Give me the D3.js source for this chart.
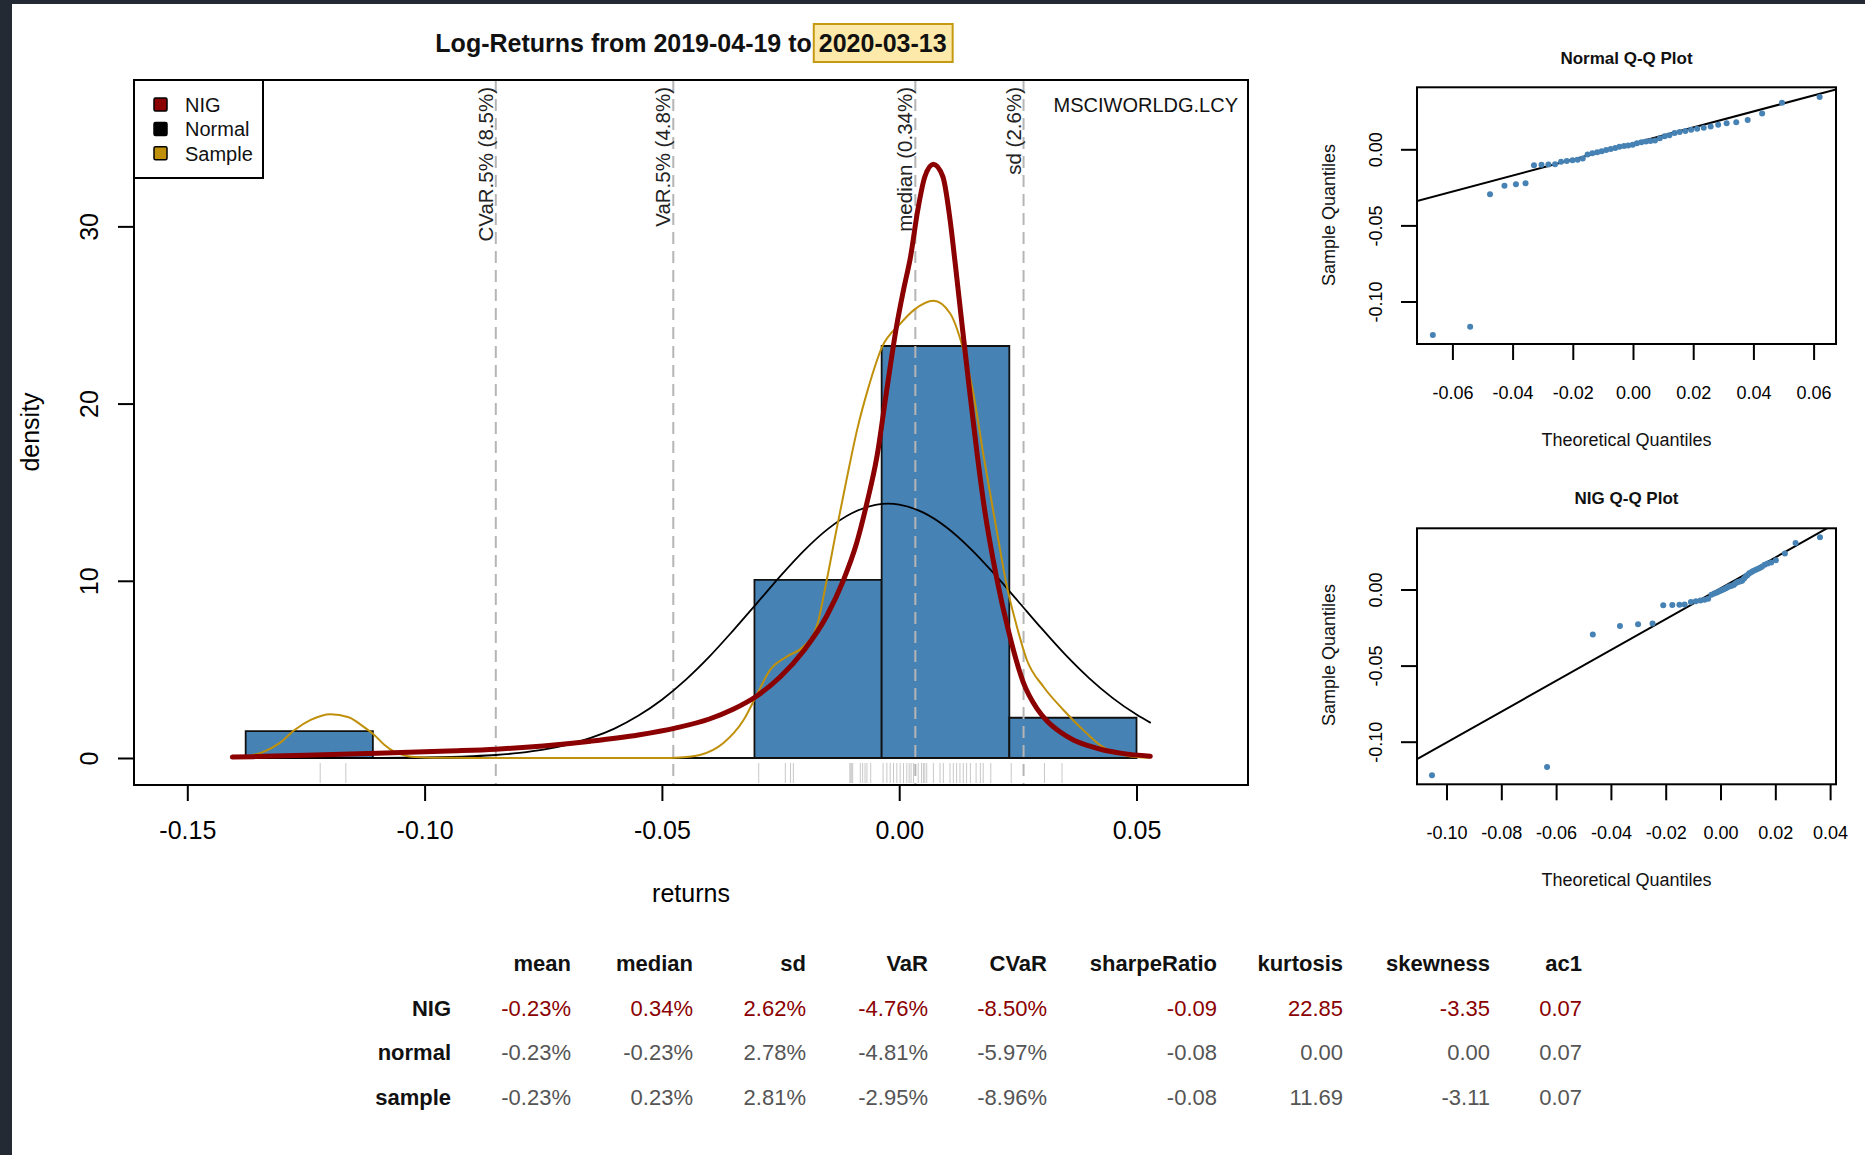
<!DOCTYPE html>
<html><head><meta charset="utf-8">
<script src="https://cdn.jsdelivr.net/npm/d3@7"></script>
<style>
html,body{margin:0;padding:0;background:#242a33;}
svg{display:block;}
text{font-family:"Liberation Sans",Arial,sans-serif;}
</style></head><body>
<svg id="chart" width="1865" height="1155"></svg>
<script>
// ---------------- DATA ----------------
const titleMain = "Log-Returns from 2019-04-19 to ";
const titleDate = "2020-03-13";
const seriesName = "MSCIWORLDG.LCY";
const legendLabels = ["NIG", "Normal", "Sample"];

const histBreaks = [-0.1377, -0.1109, -0.0841, -0.0573, -0.0305, -0.0037, 0.0232, 0.0500];
const histDensity = [1.52, 0, 0, 0, 10.05, 23.25, 2.27];

const xTicks = [-0.15, -0.10, -0.05, 0.00, 0.05];
const yTicks = [0, 10, 20, 30];

const riskLabels = ["CVaR.5% (8.5%)", "VaR.5% (4.8%)", "median (0.34%)", "sd (2.6%)"];
const riskValues = [-0.085, -0.0476, 0.0034, 0.0262];

// sorted log-returns (48 obs)
const sampleReturns = [
 -0.1220, -0.1166, -0.0296, -0.0240, -0.0229, -0.0223, -0.0104, -0.0102, -0.0100, -0.0098,
 -0.0082, -0.0077, -0.0072, -0.0068, -0.0060, -0.0034, -0.0026, -0.0019, -0.0012, -0.0005,
  0.0002,  0.0009,  0.0016,  0.0021,  0.0025,  0.0030,  0.0040,  0.0047,  0.0051,  0.0054,
  0.0058,  0.0072,  0.0086,  0.0093,  0.0107,  0.0114,  0.0121,  0.0128,  0.0135,  0.0142,
  0.0150,  0.0162,  0.0171,  0.0177,  0.0193,  0.0236,  0.0306,  0.0343];

// density curves
const normX = [-0.1405,-0.120,-0.110,-0.100,-0.090,-0.085,-0.080,-0.075,-0.070,-0.065,-0.060,-0.055,-0.050,-0.045,-0.040,-0.035,-0.030,-0.025,-0.020,-0.015,-0.010,-0.005,-0.0023,0.000,0.005,0.010,0.015,0.020,0.025,0.030,0.035,0.040,0.045,0.050,0.053];
const normY = [0.00,0.002,0.01,0.03,0.10,0.17,0.29,0.47,0.74,1.13,1.66,2.38,3.29,4.41,5.72,7.19,8.73,10.28,11.72,12.93,13.81,14.28,14.35,14.30,13.86,13.01,11.82,10.40,8.86,7.31,5.83,4.51,3.38,2.45,1.98];

const nigX = [-0.1405,-0.125,-0.110,-0.095,-0.085,-0.075,-0.065,-0.055,-0.047,-0.040,-0.035,-0.030,-0.025,-0.020,-0.0153,-0.0118,-0.0090,-0.0068,-0.0047,-0.0025,-0.0006,0.0009,0.0024,0.0039,0.0054,0.0072,0.0092,0.0107,0.0118,0.0133,0.0148,0.0164,0.0180,0.0205,0.0230,0.0261,0.0290,0.0311,0.0340,0.0367,0.0400,0.0430,0.0470,0.0529];
const nigY = [0.05,0.15,0.27,0.40,0.50,0.68,0.95,1.30,1.70,2.20,2.75,3.50,4.60,6.10,8.00,10.0,12.1,14.4,17.0,21.0,24.3,26.4,28.3,30.9,32.8,33.5,32.8,30.4,27.9,24.3,20.8,17.2,14.0,10.2,7.2,4.3,2.8,2.1,1.45,1.02,0.68,0.45,0.26,0.10];

const sampX = [-0.1405,-0.1370,-0.1343,-0.1305,-0.1274,-0.1240,-0.1198,-0.1160,-0.1129,-0.1106,-0.1085,-0.1063,-0.1035,-0.1000,-0.0950,-0.0900,-0.0500,-0.0462,-0.0420,-0.0371,-0.0328,-0.0302,-0.0272,-0.0237,-0.0202,-0.0174,-0.0153,-0.0132,-0.0111,-0.0088,-0.0066,-0.0036,0.0002,0.0032,0.0072,0.0107,0.0133,0.0156,0.0178,0.0205,0.0227,0.0248,0.0269,0.0304,0.0346,0.0395,0.0423,0.0460,0.0500,0.0529];
const sampY = [0.02,0.12,0.30,0.85,1.58,2.15,2.47,2.30,1.77,1.30,0.75,0.34,0.10,0.03,0.01,0.00,0.00,0.03,0.17,0.83,2.14,3.46,4.97,5.72,6.28,7.40,10.0,12.9,15.7,18.6,20.8,23.2,24.5,25.3,25.8,25.1,23.25,20.6,17.0,12.9,9.67,7.41,5.53,4.02,2.71,1.39,0.73,0.25,0.05,0.01];

// Q-Q plots
const normalTheo = [-0.0665,-0.0541,-0.0475,-0.0427,-0.0389,-0.0357,-0.0329,-0.0304,-0.0281,-0.0259,-0.0239,-0.0220,-0.0201,-0.0184,-0.0167,-0.0151,-0.0135,-0.0119,-0.0104,-0.0089,-0.0074,-0.0059,-0.0045,-0.0030,-0.0016,-0.0001,0.0013,0.0028,0.0043,0.0058,0.0073,0.0089,0.0105,0.0121,0.0138,0.0155,0.0174,0.0193,0.0213,0.0235,0.0258,0.0283,0.0311,0.0343,0.0381,0.0429,0.0495,0.0620];
const nigTheo = [-0.1053,-0.0633,-0.0466,-0.0367,-0.0301,-0.0248,-0.0209,-0.0176,-0.0150,-0.0131,-0.0108,-0.0090,-0.0073,-0.0058,-0.0045,-0.0033,-0.0023,-0.0013,-0.0004,0.0004,0.0012,0.0020,0.0027,0.0034,0.0041,0.0048,0.0054,0.0061,0.0067,0.0073,0.0079,0.0086,0.0092,0.0098,0.0105,0.0112,0.0119,0.0127,0.0135,0.0143,0.0151,0.0161,0.0172,0.0185,0.0202,0.0235,0.0274,0.0363];
const normalQQLine = [0.0038, 0.527];  // intercept, slope
const nigQQLine = [0.0008, 1.014];
const normalQQTicksX = [-0.06,-0.04,-0.02,0.00,0.02,0.04,0.06];
const nigQQTicksX = [-0.10,-0.08,-0.06,-0.04,-0.02,0.00,0.02,0.04];
const qqTicksY = [0.00,-0.05,-0.10];

// statistics table
const tableCols = ["mean","median","sd","VaR","CVaR","sharpeRatio","kurtosis","skewness","ac1"];
const tableRowNames = ["NIG","normal","sample"];
const tableNIG    = ["-0.23%","0.34%","2.62%","-4.76%","-8.50%","-0.09","22.85","-3.35","0.07"];
const tableNormal = ["-0.23%","-0.23%","2.78%","-4.81%","-5.97%","-0.08","0.00","0.00","0.07"];
const tableSample = ["-0.23%","0.23%","2.81%","-2.95%","-8.96%","-0.08","11.69","-3.11","0.07"];

// ---------------- DRAW ----------------
const svg = d3.select("#chart");
const W = 1865, H = 1155;
const FONT = '"Liberation Sans",Arial,sans-serif';
const NIGCOL = "#8b0000", SAMPCOL = "#c0900a", BARCOL = "#4682b4";
const fmt2 = d => d.toFixed(2);

svg.append("rect").attr("x", 12).attr("y", 4).attr("width", W - 12).attr("height", H - 4).attr("fill", "#ffffff");

// ---- main histogram panel ----
const L = 134, R = 1248, T = 80, B = 785;
const x = d3.scaleLinear().domain([-0.16123, 0.07349]).range([L, R]);
const y = d3.scaleLinear().domain([-1.524, 38.26]).range([B, T]);

const main = svg.append("g");

// bars
const bins = histDensity.map((d, i) => ({x0: histBreaks[i], x1: histBreaks[i + 1], d}));
main.selectAll("path.bar").data(bins).join("path").attr("class", "bar")
  .attr("d", b => `M${x(b.x0)},${y(0)}V${y(b.d)}H${x(b.x1)}V${y(0)}Z`)
  .attr("fill", BARCOL).attr("stroke", "#111").attr("stroke-width", 1.8);

// rug
main.selectAll("line.rug").data(sampleReturns).join("line").attr("class", "rug")
  .attr("x1", d => x(d)).attr("x2", d => x(d)).attr("y1", 763).attr("y2", 783)
  .attr("stroke", "#c8c8c8").attr("stroke-width", 1);

// risk lines
main.selectAll("line.risk").data(riskValues).join("line").attr("class", "risk")
  .attr("x1", d => x(d)).attr("x2", d => x(d)).attr("y1", T).attr("y2", B)
  .attr("stroke", "#b5b5b5").attr("stroke-width", 2).attr("stroke-dasharray", "12,7");
main.selectAll("text.risk").data(riskValues).join("text").attr("class", "risk")
  .attr("transform", d => `translate(${x(d) - 3},87) rotate(-90)`)
  .attr("text-anchor", "end").attr("font-size", 20.5).attr("fill", "#222")
  .text((d, i) => riskLabels[i]);

// curves
const line = d3.line().x(d => x(d[0])).y(d => y(d[1])).curve(d3.curveMonotoneX);
main.append("path").attr("d", line(d3.zip(normX, normY))).attr("fill", "none").attr("stroke", "#000").attr("stroke-width", 1.8);
main.append("path").attr("d", line(d3.zip(sampX, sampY))).attr("fill", "none").attr("stroke", SAMPCOL).attr("stroke-width", 2);
main.append("path").attr("d", line(d3.zip(nigX, nigY))).attr("fill", "none").attr("stroke", NIGCOL).attr("stroke-width", 5).attr("stroke-linejoin", "round").attr("stroke-linecap", "round");

// box
main.append("rect").attr("x", L).attr("y", T).attr("width", R - L).attr("height", B - T)
  .attr("fill", "none").attr("stroke", "#000").attr("stroke-width", 2);

// x axis
const xAxis = main.append("g").attr("transform", `translate(0,${B})`)
  .call(d3.axisBottom(x).tickValues(xTicks).tickFormat(fmt2).tickSize(16).tickPadding(20));
xAxis.select(".domain").remove();
xAxis.selectAll("line").attr("stroke", "#000").attr("stroke-width", 2);
xAxis.selectAll("text").attr("font-size", 25).attr("font-family", FONT).attr("fill", "#000");

// y axis
const yAxis = main.append("g").attr("transform", `translate(${L},0)`)
  .call(d3.axisLeft(y).tickValues(yTicks).tickFormat(d => d).tickSize(16).tickPadding(0));
yAxis.select(".domain").remove();
yAxis.selectAll("line").attr("stroke", "#000").attr("stroke-width", 2);
yAxis.selectAll("text").attr("x", null).attr("dy", null)
  .attr("transform", "translate(-45,0) rotate(-90)").attr("dy", "0.35em")
  .attr("text-anchor", "middle").attr("font-size", 25).attr("font-family", FONT).attr("fill", "#000");

main.append("text").attr("x", (L + R) / 2).attr("y", 902).attr("text-anchor", "middle")
  .attr("font-size", 25).text("returns");
main.append("text").attr("transform", "translate(30,432) rotate(-90)").attr("dy", "0.35em")
  .attr("text-anchor", "middle").attr("font-size", 25).text("density");

main.append("text").attr("x", 1238).attr("y", 112).attr("text-anchor", "end")
  .attr("font-size", 20).attr("fill", "#111").text(seriesName);

// legend
const leg = main.append("g");
leg.append("rect").attr("x", L).attr("y", T).attr("width", 129).attr("height", 98)
  .attr("fill", "#fff").attr("stroke", "#000").attr("stroke-width", 2);
const legCols = [NIGCOL, "#000", SAMPCOL];
leg.selectAll("rect.sw").data(legendLabels).join("rect").attr("class", "sw")
  .attr("x", 154).attr("y", (d, i) => 98 + i * 24.4).attr("width", 13).attr("height", 13).attr("rx", 1.5)
  .attr("fill", (d, i) => legCols[i]).attr("stroke", "#000").attr("stroke-width", 1.5);
leg.selectAll("text").data(legendLabels).join("text")
  .attr("x", 185).attr("y", (d, i) => 112 + i * 24.4).attr("font-size", 20).attr("fill", "#111").text(d => d);

// title with highlighted date
const tg = svg.append("g");
const tt = tg.append("text").attr("x", 691).attr("y", 52).attr("text-anchor", "middle")
  .attr("font-size", 25).attr("font-weight", "bold").attr("fill", "#111");
tt.append("tspan").text(titleMain);
tt.append("tspan").text(titleDate);
{
  const node = tt.node();
  const bb = node.getBBox();
  const pre = node.getSubStringLength(0, titleMain.length);
  const dw = node.getSubStringLength(titleMain.length, titleDate.length);
  tg.insert("rect", "text").attr("x", bb.x + pre - 5).attr("y", 24).attr("width", dw + 11).attr("height", 38)
    .attr("fill", "#fde9a9").attr("stroke", "#c59a12").attr("stroke-width", 2);
}

// ---- Q-Q plots ----
function qqPanel(top, bottom, xDom, yDom, theo, lineCoef, ticksX, title, titleY, xlabY, ylabCy) {
  const qL = 1417, qR = 1836;
  const qx = d3.scaleLinear().domain(xDom).range([qL, qR]);
  const qy = d3.scaleLinear().domain(yDom).range([bottom, top]);
  const g = svg.append("g");
  const cid = "clip" + Math.round(top);
  g.append("clipPath").attr("id", cid).append("rect").attr("x", qL).attr("y", top).attr("width", qR - qL).attr("height", bottom - top);
  g.append("line").attr("clip-path", `url(#${cid})`)
    .attr("x1", qx(xDom[0])).attr("y1", qy(lineCoef[0] + lineCoef[1] * xDom[0]))
    .attr("x2", qx(xDom[1])).attr("y2", qy(lineCoef[0] + lineCoef[1] * xDom[1]))
    .attr("stroke", "#000").attr("stroke-width", 2);
  g.selectAll("circle").data(theo).join("circle")
    .attr("cx", d => qx(d)).attr("cy", (d, i) => qy(sampleReturns[i])).attr("r", 3).attr("fill", BARCOL);
  g.append("rect").attr("x", qL).attr("y", top).attr("width", qR - qL).attr("height", bottom - top)
    .attr("fill", "none").attr("stroke", "#000").attr("stroke-width", 2);
  const ax = g.append("g").attr("transform", `translate(0,${bottom})`)
    .call(d3.axisBottom(qx).tickValues(ticksX).tickFormat(fmt2).tickSize(16).tickPadding(26));
  ax.select(".domain").remove();
  ax.selectAll("line").attr("stroke", "#000").attr("stroke-width", 2);
  ax.selectAll("text").attr("font-size", 18).attr("font-family", FONT).attr("fill", "#000");
  const ay = g.append("g").attr("transform", `translate(${qL},0)`)
    .call(d3.axisLeft(qy).tickValues(qqTicksY).tickFormat(fmt2).tickSize(16));
  ay.select(".domain").remove();
  ay.selectAll("line").attr("stroke", "#000").attr("stroke-width", 2);
  ay.selectAll("text").attr("x", null).attr("dy", null)
    .attr("transform", "translate(-41,0) rotate(-90)").attr("dy", "0.35em")
    .attr("text-anchor", "middle").attr("font-size", 18).attr("font-family", FONT).attr("fill", "#000");
  g.append("text").attr("x", (qL + qR) / 2).attr("y", titleY).attr("text-anchor", "middle")
    .attr("font-size", 17).attr("font-weight", "bold").attr("fill", "#111").text(title);
  g.append("text").attr("x", (qL + qR) / 2).attr("y", xlabY).attr("text-anchor", "middle")
    .attr("font-size", 18).attr("fill", "#111").text("Theoretical Quantiles");
  g.append("text").attr("transform", `translate(1329,${ylabCy}) rotate(-90)`).attr("dy", "0.35em")
    .attr("text-anchor", "middle").attr("font-size", 18).attr("fill", "#111").text("Sample Quantiles");
}
qqPanel(87.3, 344, [-0.07176, 0.06744], [-0.12793, 0.04074], normalTheo, normalQQLine, normalQQTicksX,
  "Normal Q-Q Plot", 64, 446, 215);
qqPanel(528.3, 784.3, [-0.11077, 0.04215], [-0.12799, 0.04021], nigTheo, nigQQLine, nigQQTicksX,
  "NIG Q-Q Plot", 504, 886, 655);

// ---- statistics table ----
const colRight = [571, 693, 806, 928, 1047, 1217, 1343, 1490, 1582];
const rowBase = [971, 1016, 1060, 1105];
const tbl = svg.append("g").attr("font-size", 22);
tbl.selectAll("text.hd").data(tableCols).join("text").attr("class", "hd")
  .attr("x", (d, i) => colRight[i]).attr("y", rowBase[0]).attr("text-anchor", "end")
  .attr("font-weight", "bold").attr("fill", "#111").text(d => d);
const rows = [tableNIG, tableNormal, tableSample];
const rowCols = [NIGCOL, "#555", "#555"];
tbl.selectAll("text.rn").data(tableRowNames).join("text").attr("class", "rn")
  .attr("x", 451).attr("y", (d, i) => rowBase[i + 1]).attr("text-anchor", "end")
  .attr("font-weight", "bold").attr("fill", "#111").text(d => d);
rows.forEach((r, ri) => {
  tbl.selectAll("text.r" + ri).data(r).join("text").attr("class", "r" + ri)
    .attr("x", (d, i) => colRight[i]).attr("y", rowBase[ri + 1]).attr("text-anchor", "end")
    .attr("fill", rowCols[ri]).text(d => d);
});
</script>
</body></html>
